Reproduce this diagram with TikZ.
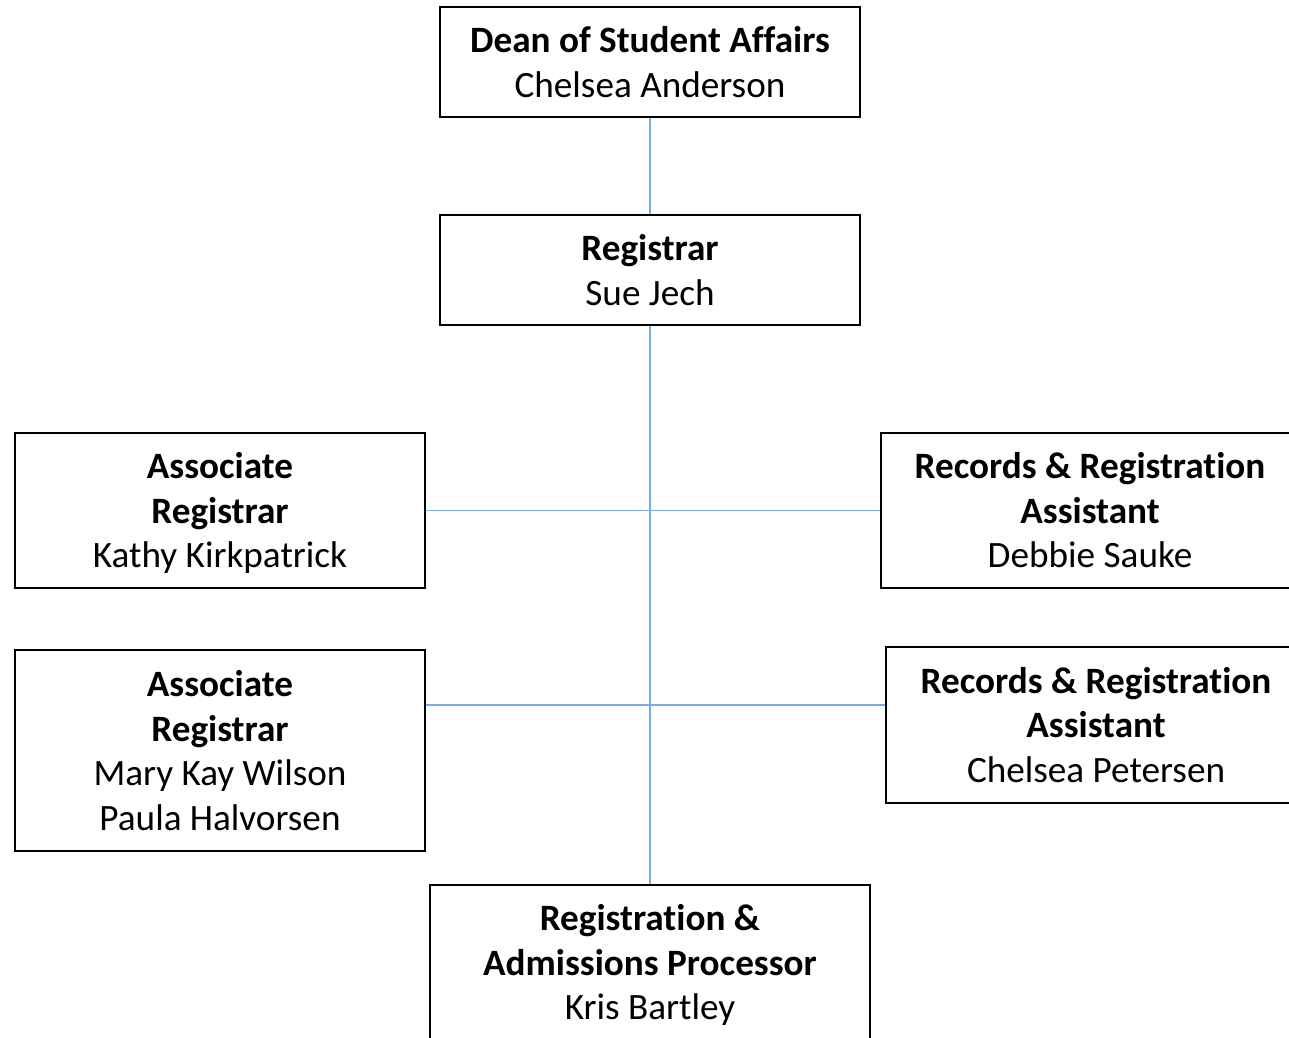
\documentclass[tikz,border=0pt]{standalone}
\usepackage{fontspec}
\setmainfont{Carlito}[RawFeature={-liga;-clig;-calt;-dlig}]
\definecolor{linkblue}{HTML}{7BABDF}
\begin{document}
\begin{tikzpicture}[x=1pt,y=-1pt,
  box/.style={draw=black,line width=1.6pt,rectangle,inner sep=0pt,align=center,
    font=\fontsize{37.2}{44.5}\selectfont},
  link/.style={draw=linkblue,line width=1.3pt}]
\path[use as bounding box,clip] (0,0) rectangle (1289,1037);
\node[box,minimum width=420,minimum height=110] (dean) at (650,62) {\textbf{Dean of Student Affairs}\\Chelsea Anderson};
\node[box,minimum width=420,minimum height=110] (reg) at (650,270) {\textbf{Registrar}\\Sue Jech};
\node[box,minimum width=410,minimum height=155,text depth=0pt,yshift=0pt] (ar1) at (220,510.5) {};
\node[font=\fontsize{37.2}{44.5}\selectfont,align=center,inner sep=0pt] (ar1t) at (220,513) {\textbf{Associate}\\\textbf{Registrar}\\Kathy Kirkpatrick};
\node[box,minimum width=418,minimum height=155] (rr1) at (1090,510.5) {\textbf{Records \& Registration}\\\textbf{Assistant}\\Debbie Sauke};
\node[box,minimum width=410,minimum height=201] (ar2) at (220,750.5) {\textbf{Associate}\\\textbf{Registrar}\\Mary Kay Wilson\\Paula Halvorsen};
\node[box,minimum width=420,minimum height=156] (rr2) at (1096,725) {\textbf{Records \& Registration}\\\textbf{Assistant}\\Chelsea Petersen};
\node[box,minimum width=440,minimum height=156] (proc) at (650,963) {};
\node[font=\fontsize{37.2}{44.5}\selectfont,align=center,inner sep=0pt] (proct) at (650,965) {\textbf{Registration \&}\\\textbf{Admissions Processor}\\Kris Bartley};
\coordinate (h2) at (650,705);
\draw[link] (dean.south) -- (reg.north);
\draw[link] (reg.south) -- (proc.north);
\draw[link] (ar1.east) -- (rr1.west);
\draw[link] (ar2.east |- h2) -- (rr2.west |- h2);
\end{tikzpicture}
\end{document}
